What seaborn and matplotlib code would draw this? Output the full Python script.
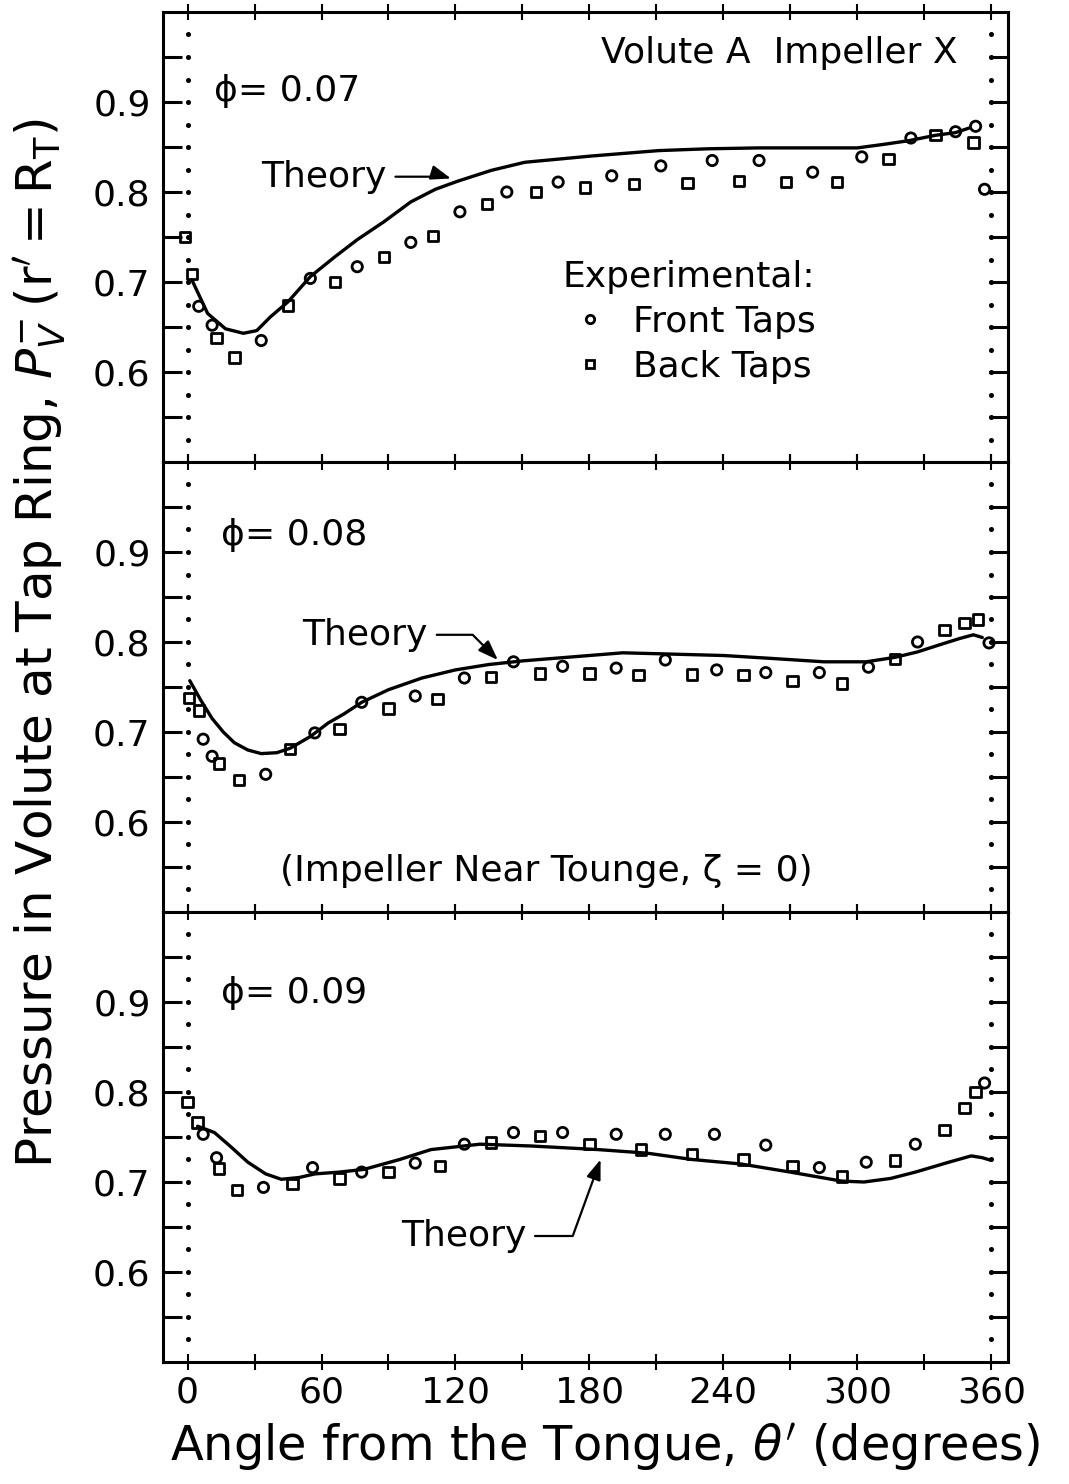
import numpy as np
import matplotlib
matplotlib.use("Agg")
import matplotlib.pyplot as plt
from matplotlib.lines import Line2D
import seaborn as sns

# ---------------- data: volute pressure at the tap ring ----------------
# phi = 0.07
theory_07_theta = [2, 9, 17, 25, 31, 37, 45, 55, 66, 76, 88, 100, 111, 121, 136, 151, 181, 211,
                   233, 256, 278, 300, 312, 323, 335, 344, 350]
theory_07 = [0.702, 0.665, 0.648, 0.643, 0.646, 0.661, 0.678, 0.706, 0.728, 0.747, 0.767, 0.789,
             0.803, 0.812, 0.824, 0.833, 0.840, 0.846, 0.848, 0.849, 0.849, 0.849, 0.853, 0.857,
             0.863, 0.866, 0.871]
front_07_theta = [5, 11, 33, 55, 76, 100, 122, 143, 166, 190, 212, 235, 256, 280, 302, 324, 344, 353, 357]
front_07 = [0.673, 0.652, 0.635, 0.704, 0.717, 0.744, 0.778, 0.800, 0.811, 0.818, 0.829, 0.835,
            0.835, 0.822, 0.839, 0.860, 0.867, 0.873, 0.803]
back_07_theta = [-1, 2, 13, 21, 45, 66, 88, 110, 134, 156, 178, 200, 224, 247, 268, 291, 314, 335, 352]
back_07 = [0.750, 0.709, 0.638, 0.616, 0.674, 0.700, 0.728, 0.751, 0.787, 0.800, 0.805, 0.809,
           0.810, 0.812, 0.811, 0.811, 0.837, 0.863, 0.855]

# phi = 0.08
theory_08_theta = [1, 6, 11, 16, 21, 27, 33, 40, 46, 55, 63, 70, 78, 90, 105, 120, 135, 150, 165,
                   195, 210, 240, 260, 285, 304, 317, 327, 337, 346, 352, 356]
theory_08 = [0.757, 0.735, 0.715, 0.700, 0.688, 0.680, 0.676, 0.677, 0.682, 0.695, 0.710, 0.720,
             0.733, 0.747, 0.760, 0.769, 0.775, 0.779, 0.782, 0.788, 0.787, 0.785, 0.782, 0.778,
             0.778, 0.783, 0.789, 0.797, 0.804, 0.808, 0.805]
front_08_theta = [7, 11, 35, 57, 78, 102, 124, 146, 168, 192, 214, 237, 259, 283, 305, 327, 359]
front_08 = [0.692, 0.673, 0.653, 0.699, 0.733, 0.740, 0.760, 0.778, 0.773, 0.771, 0.780, 0.769,
            0.766, 0.766, 0.772, 0.800, 0.799]
back_08_theta = [0.5, 5, 14, 23, 46, 68, 90, 112, 136, 158, 180, 202, 226, 249, 271, 293, 317, 339, 348, 354]
back_08 = [0.738, 0.724, 0.665, 0.647, 0.681, 0.703, 0.726, 0.737, 0.761, 0.765, 0.765, 0.763,
           0.764, 0.763, 0.757, 0.754, 0.781, 0.813, 0.821, 0.825]

# phi = 0.09
theory_09_theta = [4.5, 12, 19, 27, 35, 42, 50, 57, 68, 79, 95, 109, 131, 154, 184, 206, 226, 248,
                   270, 293, 303, 315, 326, 341, 351, 356, 360]
theory_09 = [0.762, 0.755, 0.740, 0.722, 0.709, 0.703, 0.705, 0.709, 0.711, 0.714, 0.725, 0.736,
             0.742, 0.740, 0.736, 0.732, 0.725, 0.720, 0.711, 0.701, 0.700, 0.704, 0.711, 0.722,
             0.729, 0.727, 0.724]
front_09_theta = [7, 13, 34, 56, 78, 102, 124, 146, 168, 192, 214, 236, 259, 283, 304, 326, 357]
front_09 = [0.753, 0.727, 0.694, 0.716, 0.711, 0.721, 0.742, 0.755, 0.755, 0.753, 0.753, 0.753,
            0.741, 0.716, 0.722, 0.742, 0.810]
back_09_theta = [0, 4.5, 14, 22, 47, 68, 90, 113, 136, 158, 180, 203, 226, 249, 271, 293, 317, 339, 348, 353]
back_09 = [0.789, 0.766, 0.715, 0.691, 0.698, 0.704, 0.711, 0.718, 0.744, 0.751, 0.742, 0.736,
           0.731, 0.725, 0.718, 0.706, 0.724, 0.758, 0.782, 0.800]

phi_labels = ["ϕ= 0.07", "ϕ= 0.08", "ϕ= 0.09"]
x_ticks = [0, 30, 60, 90, 120, 150, 180, 210, 240, 270, 300, 330, 360]
x_ticklabels = ["0", "", "60", "", "120", "", "180", "", "240", "", "300", "", "360"]
y_ticks = [0.55, 0.60, 0.65, 0.70, 0.75, 0.80, 0.85, 0.90, 0.95]
y_ticklabels = ["", "0.6", "", "0.7", "", "0.8", "", "0.9", ""]
guide_levels = [0.525 + 0.025 * i for i in range(19)]

# ---------------- styling ----------------
sns.set_style("white")
plt.rcParams["font.family"] = ["DejaVu Sans"]
plt.rcParams["mathtext.fontset"] = "dejavusans"
for key in ("text.color", "axes.labelcolor", "xtick.color", "ytick.color", "axes.edgecolor"):
    plt.rcParams[key] = "black"
TXT = 26

fig, axes = plt.subplots(3, 1, sharex=True, figsize=(10.69, 14.84), dpi=100)
fig.subplots_adjust(left=163 / 1069, right=1008 / 1069, top=1 - 12 / 1484,
                    bottom=1 - 1362 / 1484, hspace=0)

panels = [
    (theory_07_theta, theory_07, front_07_theta, front_07, back_07_theta, back_07),
    (theory_08_theta, theory_08, front_08_theta, front_08, back_08_theta, back_08),
    (theory_09_theta, theory_09, front_09_theta, front_09, back_09_theta, back_09),
]
phi_pos = [(12, 0.912), (15, 0.919), (15, 0.910)]

for i, (ax, (tt, tv, ft, fv, bt, bv)) in enumerate(zip(axes, panels)):
    sns.lineplot(x=tt, y=tv, ax=ax, color="black", lw=2.4, sort=False, estimator=None, zorder=2)
    sns.scatterplot(x=ft, y=fv, ax=ax, marker="o", s=55, facecolor="none",
                    edgecolor="black", linewidth=2.0, zorder=3)
    sns.scatterplot(x=bt, y=bv, ax=ax, marker="s", s=55, facecolor="none",
                    edgecolor="black", linewidth=2.0, zorder=3)
    for coll in ax.collections:
        coll.set_facecolor("none")

    # dotted guides at the tongue (0 and 360 degrees)
    for gx in (0, 360):
        ax.plot([gx] * len(guide_levels), guide_levels, ls="none", marker="o",
                ms=2.6, color="black", zorder=1)

    ax.set_xlim(-11, 367.5)
    ax.set_ylim(0.5, 1.0)
    ax.set_yticks(y_ticks)
    ax.set_yticklabels(y_ticklabels, fontsize=TXT)
    ax.set_xticks(x_ticks)
    ax.set_xticklabels(x_ticklabels, fontsize=TXT)
    ax.tick_params(axis="y", which="major", direction="in", length=14, width=2.2,
                   left=True, right=True, pad=9)
    ax.tick_params(axis="x", which="major", direction="inout", length=11, width=1.5,
                   top=True, bottom=True, pad=4)
    for sp in ax.spines.values():
        sp.set_visible(True)
        sp.set_linewidth(2.2)
        sp.set_color("black")
    ax.set_xlabel("")
    ax.set_ylabel("")

    ax.text(phi_pos[i][0], phi_pos[i][1], phi_labels[i], ha="left", va="center", fontsize=TXT)

arrow_kw = dict(arrowstyle="-|>,head_length=0.55,head_width=0.2", color="black", lw=1.6,
                relpos=(1.0, 0.5), shrinkA=4, shrinkB=0, mutation_scale=22)

# top panel annotations
ax = axes[0]
ax.text(345, 0.955, "Volute A  Impeller X", ha="right", va="center", fontsize=TXT)
ax.annotate("Theory", xy=(118, 0.815), xytext=(33, 0.817), ha="left", va="center",
            fontsize=TXT,
            arrowprops=dict(connectionstyle="angle,angleA=0,angleB=-17,rad=0", **arrow_kw))
handles = [
    Line2D([], [], ls="none", marker="o", ms=6, mfc="none", mec="black", mew=2.0),
    Line2D([], [], ls="none", marker="s", ms=6, mfc="none", mec="black", mew=2.0),
]
leg = ax.legend(handles, ["Front Taps", "Back Taps"], title="Experimental:",
                loc="upper left", bbox_to_anchor=((563 - 163) / 845, 1 - (260 - 12) / 450),
                frameon=False, fontsize=TXT, title_fontsize=TXT, borderpad=0,
                handlelength=1.5, handletextpad=0.45, labelspacing=0.3,
                alignment="left", borderaxespad=0)

# middle panel annotations
ax = axes[1]
ax.annotate("Theory", xy=(139, 0.780), xytext=(51.5, 0.808), ha="left", va="center",
            fontsize=TXT,
            arrowprops=dict(connectionstyle="angle,angleA=0,angleB=135,rad=0", **arrow_kw))
ax.text(160.5, 0.545, "(Impeller Near Tounge, ζ = 0)", ha="center", va="center", fontsize=TXT)

# bottom panel annotations
ax = axes[2]
ax.annotate("Theory", xy=(185, 0.725), xytext=(95.5, 0.640), ha="left", va="center",
            fontsize=TXT,
            arrowprops=dict(connectionstyle="angle,angleA=0,angleB=70,rad=0", **arrow_kw))

fig.text(40 / 1069, 1 - 643 / 1484,
         r"Pressure in Volute at Tap Ring, $P_V^{-}\,\mathrm{(r' = R_T)}$",
         rotation=90, ha="center", va="center", fontsize=36)
fig.text(605 / 1069, 1 - 1447 / 1484, r"Angle from the Tongue, $\theta'$ (degrees)",
         ha="center", va="center", fontsize=34.5)

fig.savefig("out.png", dpi=100, facecolor="white")
